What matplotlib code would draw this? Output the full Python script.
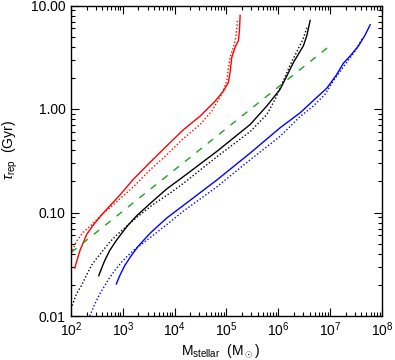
import matplotlib
matplotlib.use('Agg')
import matplotlib.pyplot as plt
from matplotlib.ticker import FixedLocator, FixedFormatter, LogLocator, NullFormatter

plt.rcParams['font.family'] = ['Liberation Sans', 'DejaVu Sans']
plt.rcParams['mathtext.fontset'] = 'custom'
plt.rcParams['mathtext.rm'] = 'Liberation Sans'
plt.rcParams['mathtext.it'] = 'Liberation Sans:italic'

# rode curves
red_solid_m = [118, 149, 201, 266, 415, 883, 1574, 3350, 7030, 14700, 30900, 60200,
               87100, 108900, 117300, 126500, 146600, 169800, 177600, 183200]
red_solid_t = [0.0291, 0.0430, 0.0615, 0.0751, 0.0984, 0.148, 0.208, 0.305, 0.440, 0.630,
               0.853, 1.19, 1.49, 1.80, 2.26, 3.16, 3.95, 4.58, 5.74, 8.03]
red_dot_m = [100, 127, 171, 233, 363, 707, 1574, 3350, 7030, 14700, 30900, 52000,
             81100, 101400, 108900, 117300, 135800, 151300, 158200, 162300]
red_dot_t = [0.0402, 0.0526, 0.0643, 0.0736, 0.0920, 0.123, 0.176, 0.258, 0.361, 0.518,
             0.708, 0.955, 1.39, 1.87, 2.52, 3.16, 3.95, 4.94, 6.19, 7.17]

# zwarte curves
black_solid_m = [343, 385, 447, 559, 749, 1009, 1260, 1854, 3350, 7040, 14700, 65000,
                 286000, 600000, 1.08e6, 1.46e6, 1.96e6, 3.05e6, 3.55e6, 4.11e6]
black_solid_t = [0.0245, 0.0285, 0.0343, 0.0430, 0.0537, 0.0655, 0.0755, 0.093, 0.122,
                 0.169, 0.222, 0.389, 0.708, 1.07, 1.55, 2.09, 2.82, 4.09, 5.13, 7.17]
black_dot_m = [100, 127, 158, 197, 247, 308, 415, 559, 749, 1009, 1854, 3880, 8150, 14700,
               65000, 286000, 600000, 908000, 1.24e6, 1.69e6, 2.31e6, 3.01e6, 3.55e6]
black_dot_t = [0.0117, 0.0163, 0.0196, 0.0245, 0.0307, 0.0357, 0.0430, 0.0518, 0.0601,
               0.0687, 0.0899, 0.120, 0.154, 0.191, 0.345, 0.605, 0.885, 1.30, 1.86, 2.66,
               3.64, 4.76, 6.09]

# blauwe curves
blue_solid_m = [749, 871, 1088, 1459, 1965, 3350, 7040, 14700, 65000, 286000, 1.08e6,
                2.64e6, 4.76e6, 8.63e6, 1.31e7, 1.81e7, 2.43e7, 3.52e7, 4.74e7, 5.92e7]
blue_solid_t = [0.0204, 0.0245, 0.0307, 0.0384, 0.047, 0.063, 0.0885, 0.117, 0.206,
                0.375, 0.658, 0.920, 1.21, 1.59, 2.12, 2.78, 3.25, 4.07, 5.21, 6.52]
blue_dot_m = [230, 287, 358, 447, 559, 698, 936, 1260, 1698, 3350, 7040, 14700, 65000,
              286000, 1.08e6, 2.64e6, 4.76e6, 8.0e6, 1.14e7, 2.10e7, 3.04e7, 4.15e7]
blue_dot_t = [0.0100, 0.0130, 0.0163, 0.0196, 0.0236, 0.0275, 0.0330, 0.0385, 0.0440,
              0.0570, 0.0765, 0.103, 0.177, 0.323, 0.544, 0.847, 1.07, 1.39, 1.86, 2.84,
              3.64, 4.76]

# groene stippellijn
green_m = [1e2, 1e7]
green_t = [0.041, 4.1]

y_ticks = [0.01, 0.1, 1.0, 10.0]
y_labels = ['0.01', '0.10', '1.00', '10.00']

fig = plt.figure(figsize=(3.95, 3.6), dpi=100)
ax = fig.add_axes([71 / 395, 44 / 360, 311 / 395, 310.5 / 360])

dots = (0, (1, 1.5))
ax.plot(red_solid_m, red_solid_t, color='#ff0000', lw=1.0)
ax.plot(red_dot_m, red_dot_t, color='#ff0000', lw=1.0, ls=dots)
ax.plot(black_solid_m, black_solid_t, color='black', lw=1.0)
ax.plot(black_dot_m, black_dot_t, color='black', lw=1.0, ls=dots)
ax.plot(blue_solid_m, blue_solid_t, color='#0000ff', lw=1.0)
ax.plot(blue_dot_m, blue_dot_t, color='#0000ff', lw=1.0, ls=dots)
ax.plot(green_m, green_t, color='#1fa01f', lw=1.0, ls=(0, (5, 5.5)))

ax.set_xscale('log')
ax.set_yscale('log')
ax.set_xlim(1e2, 1e8)
ax.set_ylim(0.01, 10)

ax.yaxis.set_major_locator(FixedLocator(y_ticks))
ax.yaxis.set_major_formatter(FixedFormatter(y_labels))
ax.yaxis.set_minor_locator(LogLocator(base=10, subs=range(2, 10)))
ax.yaxis.set_minor_formatter(NullFormatter())
ax.xaxis.set_minor_locator(LogLocator(base=10, subs=range(2, 10)))
ax.xaxis.set_minor_formatter(NullFormatter())

ax.tick_params(which='both', direction='in', top=True, right=True, labelsize=10, width=0.8)
ax.tick_params(which='major', length=6)
ax.tick_params(which='minor', length=3)
ax.tick_params(axis='x', pad=3)
ax.tick_params(axis='y', pad=4)
for s in ax.spines.values():
    s.set_linewidth(1.0)

ax.set_xlabel(r'M$_{\rm stellar}$  (M$_\odot$)', fontsize=10)
ax.set_ylabel(r'$\tau_{\rm rep}$  (Gyr)', fontsize=10)
ax.xaxis.set_label_coords(0.48, -0.085)
ax.yaxis.set_label_coords(-0.165, 0.535)

fig.savefig('out.png', dpi=100)
